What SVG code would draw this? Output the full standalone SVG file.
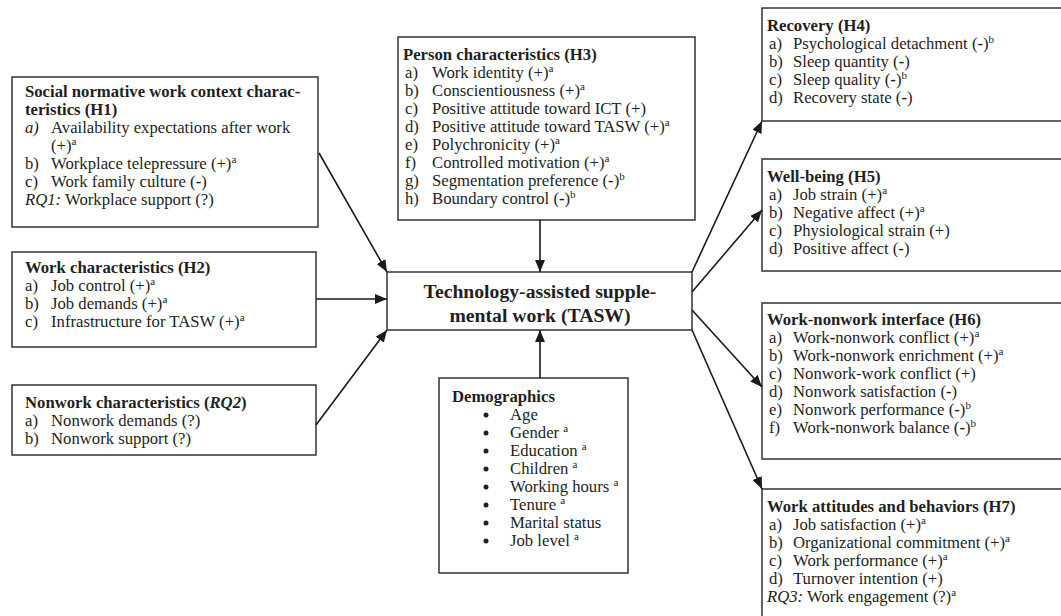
<svg xmlns="http://www.w3.org/2000/svg" width="1061" height="616" viewBox="0 0 1061 616">
<defs>
<style>
text{font-family:"Liberation Serif","Times New Roman",serif;font-size:16.7px;fill:#231f20}
.b{font-weight:bold}
.i{font-style:italic}
.box{fill:#fff;stroke:#333;stroke-width:1.5}
.ln{stroke:#1a1a1a;stroke-width:1.6;fill:none;marker-end:url(#ah)}
.c{font-size:19.7px;font-weight:bold;text-anchor:middle}
</style>
<marker id="ah" markerUnits="userSpaceOnUse" markerWidth="12" markerHeight="10" refX="12" refY="5" orient="auto"><path d="M0,0 L12,5 L0,10 z" fill="#1a1a1a"/></marker>
</defs>
<rect width="1061" height="616" fill="#fff"/>

<g id="h1">
<rect class="box" x="12" y="77" width="306" height="150"/>
<text class="b" x="25" y="97">Social normative work context charac-</text>
<text class="b" x="25" y="115">teristics (H1)</text>
<text class="i" x="25" y="133">a)</text><text x="51" y="133">Availability expectations after work</text>
<text x="51" y="151">(+)<tspan dy="-6" font-size="11">a</tspan></text>
<text x="25" y="169">b)</text><text x="51" y="169">Workplace telepressure (+)<tspan dy="-6" font-size="11">a</tspan></text>
<text x="25" y="187">c)</text><text x="51" y="187">Work family culture (<tspan class="b">-</tspan>)</text>
<text x="25" y="205"><tspan class="i">RQ1:</tspan> Workplace support (?)</text>
</g>

<g id="h2">
<rect class="box" x="12" y="252" width="304" height="95"/>
<text class="b" x="25" y="273">Work characteristics (H2)</text>
<text x="25" y="291">a)</text><text x="51" y="291">Job control (+)<tspan dy="-6" font-size="11">a</tspan></text>
<text x="25" y="309">b)</text><text x="51" y="309">Job demands (+)<tspan dy="-6" font-size="11">a</tspan></text>
<text x="25" y="327">c)</text><text x="51" y="327">Infrastructure for TASW (+)<tspan dy="-6" font-size="11">a</tspan></text>
</g>

<g id="rq2">
<rect class="box" x="12" y="385" width="304" height="70"/>
<text class="b" x="25" y="408">Nonwork characteristics (<tspan class="i">RQ2</tspan>)</text>
<text x="25" y="426">a)</text><text x="51" y="426">Nonwork demands (?)</text>
<text x="25" y="444">b)</text><text x="51" y="444">Nonwork support (?)</text>
</g>

<g id="h3">
<rect class="box" x="398" y="37" width="297" height="183"/>
<text class="b" x="403" y="60">Person characteristics (H3)</text>
<text x="405" y="78">a)</text><text x="432" y="78">Work identity (+)<tspan dy="-6" font-size="11">a</tspan></text>
<text x="405" y="96">b)</text><text x="432" y="96">Conscientiousness (+)<tspan dy="-6" font-size="11">a</tspan></text>
<text x="405" y="114">c)</text><text x="432" y="114">Positive attitude toward ICT (+)</text>
<text x="405" y="132">d)</text><text x="432" y="132">Positive attitude toward TASW (+)<tspan dy="-6" font-size="11">a</tspan></text>
<text x="405" y="150">e)</text><text x="432" y="150">Polychronicity (+)<tspan dy="-6" font-size="11">a</tspan></text>
<text x="405" y="168">f)</text><text x="432" y="168">Controlled motivation (+)<tspan dy="-6" font-size="11">a</tspan></text>
<text x="405" y="186">g)</text><text x="432" y="186">Segmentation preference (<tspan class="b">-</tspan>)<tspan dy="-6" font-size="11">b</tspan></text>
<text x="405" y="204">h)</text><text x="432" y="204">Boundary control (<tspan class="b">-</tspan>)<tspan dy="-6" font-size="11">b</tspan></text>
</g>

<g id="tasw">
<rect class="box" x="387" y="272" width="305" height="58"/>
<text class="c" x="540" y="298">Technology-assisted supple-</text>
<text class="c" x="540" y="322">mental work (TASW)</text>
</g>

<g id="demo">
<rect class="box" x="439" y="378" width="189" height="195"/>
<text class="b" x="452" y="402">Demographics</text>
<g fill="#231f20">
<circle cx="486" cy="415" r="2.5"/><circle cx="486" cy="433" r="2.5"/><circle cx="486" cy="451" r="2.5"/><circle cx="486" cy="469" r="2.5"/>
<circle cx="486" cy="487" r="2.5"/><circle cx="486" cy="505" r="2.5"/><circle cx="486" cy="523" r="2.5"/><circle cx="486" cy="541" r="2.5"/>
</g>
<text x="510" y="420">Age</text>
<text x="510" y="438">Gender <tspan dy="-6" font-size="11">a</tspan></text>
<text x="510" y="456">Education <tspan dy="-6" font-size="11">a</tspan></text>
<text x="510" y="474">Children <tspan dy="-6" font-size="11">a</tspan></text>
<text x="510" y="492">Working hours <tspan dy="-6" font-size="11">a</tspan></text>
<text x="510" y="510">Tenure <tspan dy="-6" font-size="11">a</tspan></text>
<text x="510" y="528">Marital status</text>
<text x="510" y="546">Job level <tspan dy="-6" font-size="11">a</tspan></text>
</g>

<g id="h4">
<rect class="box" x="762" y="8" width="320" height="113"/>
<text class="b" x="767" y="31">Recovery (H4)</text>
<text x="769" y="49">a)</text><text x="793" y="49">Psychological detachment (<tspan class="b">-</tspan>)<tspan dy="-6" font-size="11">b</tspan></text>
<text x="769" y="67">b)</text><text x="793" y="67">Sleep quantity (<tspan class="b">-</tspan>)</text>
<text x="769" y="85">c)</text><text x="793" y="85">Sleep quality (<tspan class="b">-</tspan>)<tspan dy="-6" font-size="11">b</tspan></text>
<text x="769" y="103">d)</text><text x="793" y="103">Recovery state (<tspan class="b">-</tspan>)</text>
</g>

<g id="h5">
<rect class="box" x="762" y="159" width="320" height="112"/>
<text class="b" x="767" y="182">Well-being (H5)</text>
<text x="769" y="200">a)</text><text x="793" y="200">Job strain (+)<tspan dy="-6" font-size="11">a</tspan></text>
<text x="769" y="218">b)</text><text x="793" y="218">Negative affect (+)<tspan dy="-6" font-size="11">a</tspan></text>
<text x="769" y="236">c)</text><text x="793" y="236">Physiological strain (+)</text>
<text x="769" y="254">d)</text><text x="793" y="254">Positive affect (<tspan class="b">-</tspan>)</text>
</g>

<g id="h6">
<rect class="box" x="762" y="303" width="320" height="156"/>
<text class="b" x="767" y="325">Work-nonwork interface (H6)</text>
<text x="769" y="343">a)</text><text x="793" y="343">Work<tspan class="b">-</tspan>nonwork conflict (+)<tspan dy="-6" font-size="11">a</tspan></text>
<text x="769" y="361">b)</text><text x="793" y="361">Work<tspan class="b">-</tspan>nonwork enrichment (+)<tspan dy="-6" font-size="11">a</tspan></text>
<text x="769" y="379">c)</text><text x="793" y="379">Nonwork-work conflict (+)</text>
<text x="769" y="397">d)</text><text x="793" y="397">Nonwork satisfaction (<tspan class="b">-</tspan>)</text>
<text x="769" y="415">e)</text><text x="793" y="415">Nonwork performance (<tspan class="b">-</tspan>)<tspan dy="-6" font-size="11">b</tspan></text>
<text x="769" y="433">f)</text><text x="793" y="433">Work<tspan class="b">-</tspan>nonwork balance (<tspan class="b">-</tspan>)<tspan dy="-6" font-size="11">b</tspan></text>
</g>

<g id="h7">
<rect class="box" x="762" y="489" width="320" height="140"/>
<text class="b" x="767" y="512">Work attitudes and behaviors (H7)</text>
<text x="769" y="530">a)</text><text x="793" y="530">Job satisfaction (+)<tspan dy="-6" font-size="11">a</tspan></text>
<text x="769" y="548">b)</text><text x="793" y="548">Organizational commitment (+)<tspan dy="-6" font-size="11">a</tspan></text>
<text x="769" y="566">c)</text><text x="793" y="566">Work performance (+)<tspan dy="-6" font-size="11">a</tspan></text>
<text x="769" y="584">d)</text><text x="793" y="584">Turnover intention (+)</text>
<text x="767" y="602"><tspan class="i">RQ3:</tspan> Work engagement (?)<tspan dy="-6" font-size="11">a</tspan></text>
</g>

<g id="connectors">
<line class="ln" x1="319" y1="153" x2="387" y2="272"/>
<line class="ln" x1="316" y1="299" x2="387" y2="299"/>
<line class="ln" x1="316" y1="425" x2="387" y2="330"/>
<line class="ln" x1="540" y1="220" x2="540" y2="272"/>
<line class="ln" x1="540" y1="378" x2="540" y2="330"/>
<line class="ln" x1="692" y1="272" x2="762" y2="121"/>
<line class="ln" x1="692" y1="292" x2="762" y2="210"/>
<line class="ln" x1="692" y1="310" x2="762" y2="387"/>
<line class="ln" x1="692" y1="330" x2="762" y2="489"/>
</g>
</svg>
